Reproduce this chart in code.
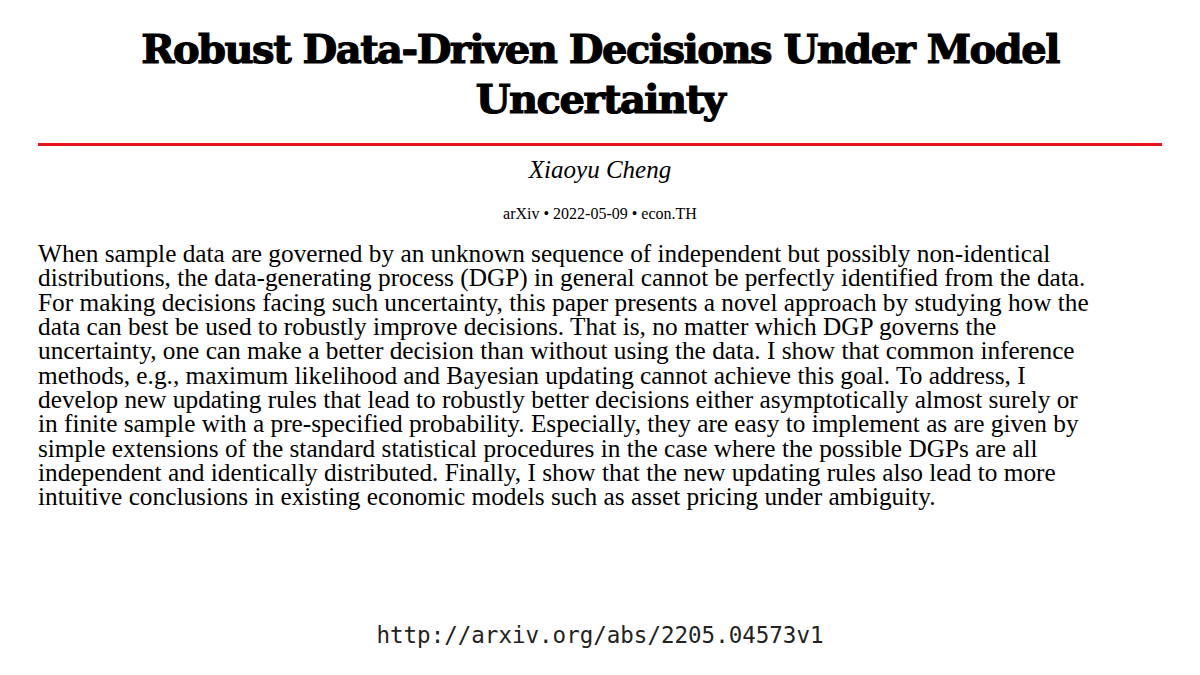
<!DOCTYPE html>
<html><head><meta charset="utf-8">
<script src="https://cdn.jsdelivr.net/npm/chart.js@4"></script>
<style>
html,body{margin:0;padding:0;background:#fff;width:1200px;height:675px;overflow:hidden;}
#wrap{position:relative;width:1200px;height:675px;}
h1{position:absolute;top:24px;left:40px;width:1120px;margin:0;text-align:center;font-family:"DejaVu Serif",serif;font-weight:900;font-size:40px;line-height:50px;color:#000;letter-spacing:-1.5px;-webkit-text-stroke:1.2px #000;}
#rule{position:absolute;top:143px;left:38px;width:1124px;height:3px;background:#e8141c;}
#author{position:absolute;top:156px;left:0;width:1200px;text-align:center;font-family:"Liberation Serif",serif;font-style:italic;font-size:25px;}
#meta{position:absolute;top:205px;left:0;width:1200px;text-align:center;font-family:"Liberation Serif",serif;font-size:16px;}
#abs{position:absolute;top:241px;left:38px;width:1140px;font-family:"Liberation Serif",serif;font-size:25.3px;line-height:24.35px;color:#000;white-space:nowrap;}
#url{position:absolute;top:622px;left:0;width:1200px;text-align:center;font-family:"DejaVu Sans Mono",monospace;font-size:22.5px;color:#222;}
</style></head><body>
<div id="wrap">
<h1>Robust Data-Driven Decisions Under Model Uncertainty</h1>
<div id="rule"></div>
<div id="author">Xiaoyu Cheng</div>
<div id="meta">arXiv • 2022-05-09 • econ.TH</div>
<div id="abs">When sample data are governed by an unknown sequence of independent but possibly non-identical<br>distributions, the data-generating process (DGP) in general cannot be perfectly identified from the data.<br>For making decisions facing such uncertainty, this paper presents a novel approach by studying how the<br>data can best be used to robustly improve decisions. That is, no matter which DGP governs the<br>uncertainty, one can make a better decision than without using the data. I show that common inference<br>methods, e.g., maximum likelihood and Bayesian updating cannot achieve this goal. To address, I<br>develop new updating rules that lead to robustly better decisions either asymptotically almost surely or<br>in finite sample with a pre-specified probability. Especially, they are easy to implement as are given by<br>simple extensions of the standard statistical procedures in the case where the possible DGPs are all<br>independent and identically distributed. Finally, I show that the new updating rules also lead to more<br>intuitive conclusions in existing economic models such as asset pricing under ambiguity.</div>
<div id="url">http://arxiv.org/abs/2205.04573v1</div>
</div>
</body></html>
